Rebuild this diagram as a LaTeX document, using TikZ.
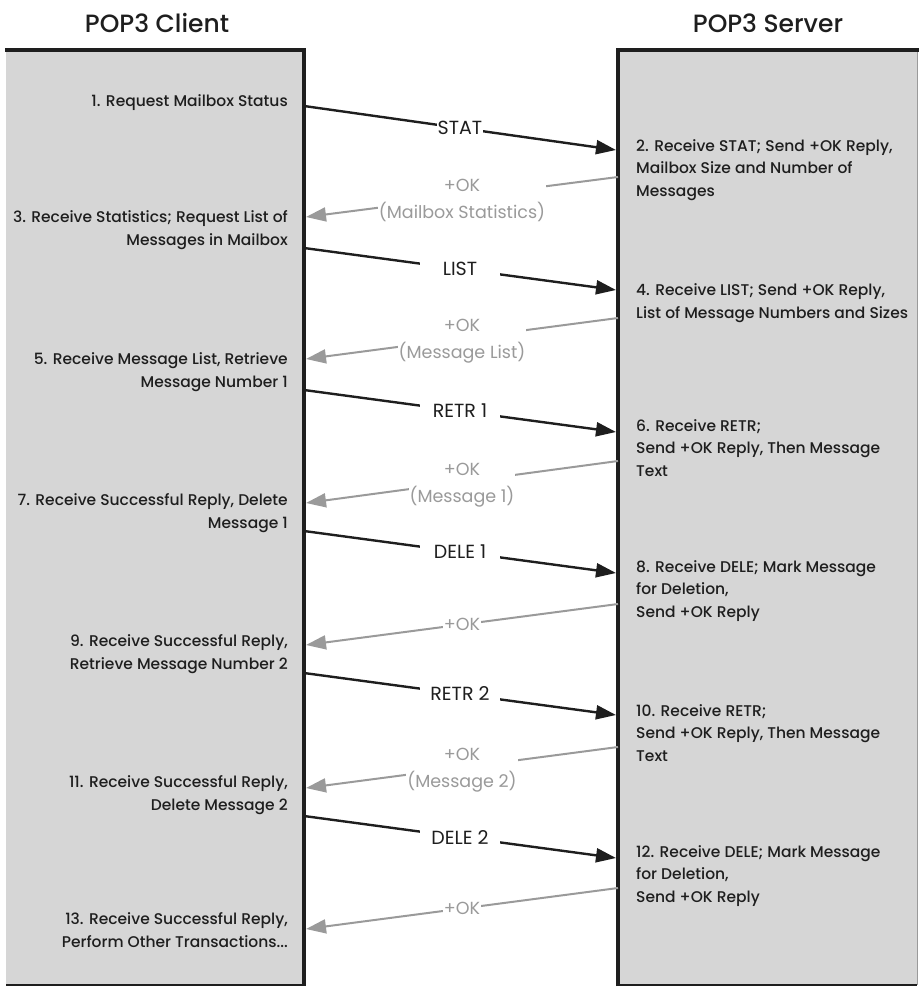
\documentclass[tikz,border=0pt]{standalone}
\usepackage{fontspec}
\setmainfont{Poppins}
\newfontfamily\medfont{Poppins Medium}
\usetikzlibrary{arrows.meta}

\definecolor{boxgray}{HTML}{D6D6D6}
\definecolor{replygray}{HTML}{9A9A9A}
\definecolor{ink}{HTML}{1E1E1E}

\begin{document}
\begin{tikzpicture}[x=1pt, y=-1pt,
    title/.style={text=ink, font=\medfont\fontsize{25}{30}\selectfont},
    ctext/.style={anchor=east, align=right, inner sep=0pt, text=ink, font=\medfont\fontsize{15.5}{22.5}\selectfont},
    stext/.style={anchor=west, align=left, inner sep=0pt, text=ink, font=\medfont\fontsize{15.5}{22.5}\selectfont},
    req/.style={draw=ink, line width=2.4pt, -{Triangle[length=20pt,width=14pt]}},
    rep/.style={draw=replygray, line width=2pt, -{Triangle[length=20pt,width=14pt]}},
    reqlab/.style={fill=white, text=ink, inner sep=1pt, minimum width=80pt, font=\fontsize{19}{22}\selectfont},
    replab/.style={fill=white, text=replygray, inner sep=1pt, align=center, font=\fontsize{17.5}{27}\selectfont}]

    \useasboundingbox (0,0) rectangle (919,987);

    % Titles
    \node[title] (client) at (157,23) {POP3 Client};
    \node[title] (server) at (768,23) {POP3 Server};

    % Client side
    \fill[boxgray] (6,50) rectangle (304,985);
    \draw[ink, line width=4.5pt] (5,50) -- (304,50) -- (304,986);
    \draw[ink, line width=1.5pt] (6,985) -- (304,985);

    % Server side
    \fill[boxgray] (618,50) rectangle (917,985);
    \draw[replygray, line width=0.8pt] (917,50) -- (917,985);
    \draw[ink, line width=4.5pt] (618,986) -- (618,50) -- (919,50);
    \draw[ink, line width=1.5pt] (618,985) -- (917,985);

    % Client steps
    \node[ctext] (c1) at (288,103) {1. Request Mailbox Status};
    \node[ctext] (c3) at (288,230) {3. Receive Statistics; Request List of\\Messages in Mailbox};
    \node[ctext] (c5) at (288,372) {5. Receive Message List, Retrieve\\Message Number 1};
    \node[ctext] (c7) at (288,513) {7. Receive Successful Reply, Delete\\Message 1};
    \node[ctext] (c9) at (288,654) {9. Receive Successful Reply,\\Retrieve Message Number 2};
    \node[ctext] (c11) at (288,795) {11. Receive Successful Reply,\\Delete Message 2};
    \node[ctext] (c13) at (288,930) {13. Receive Successful Reply,\\Perform Other Transactions...};

    % Server steps
    \node[stext] (s2) at (636,170) {2. Receive STAT; Send +OK Reply,\\Mailbox Size and Number of\\Messages};
    \node[stext] (s4) at (636,303) {4. Receive LIST; Send +OK Reply,\\List of Message Numbers and Sizes};
    \node[stext] (s6) at (636,448) {6. Receive RETR;\\Send +OK Reply, Then Message\\Text};
    \node[stext] (s8) at (636,591) {8. Receive DELE; Mark Message\\for Deletion,\\Send +OK Reply};
    \node[stext] (s10) at (636,733) {10. Receive RETR;\\Send +OK Reply, Then Message\\Text};
    \node[stext] (s12) at (636,876) {12. Receive DELE; Mark Message\\for Deletion,\\Send +OK Reply};

    % Ends of the commands on the box edges
    \coordinate (stat-a) at (304,106);  \coordinate (stat-b) at (616,150);
    \coordinate (list-a) at (304,248);  \coordinate (list-b) at (616,290);
    \coordinate (retr1-a) at (304,390); \coordinate (retr1-b) at (616,432);
    \coordinate (dele1-a) at (304,531); \coordinate (dele1-b) at (616,573);
    \coordinate (retr2-a) at (304,673); \coordinate (retr2-b) at (616,715);
    \coordinate (dele2-a) at (304,816); \coordinate (dele2-b) at (616,858);

    % Ends of the replies on the box edges
    \coordinate (ok1-a) at (618,177); \coordinate (ok1-b) at (306,217);
    \coordinate (ok2-a) at (618,318); \coordinate (ok2-b) at (306,359);
    \coordinate (ok3-a) at (618,461); \coordinate (ok3-b) at (306,503);
    \coordinate (ok4-a) at (618,604); \coordinate (ok4-b) at (306,645);
    \coordinate (ok5-a) at (618,747); \coordinate (ok5-b) at (306,788);
    \coordinate (ok6-a) at (618,888); \coordinate (ok6-b) at (306,929);

    % Commands
    \draw[req] (stat-a) -- node[reqlab, minimum width=0pt, inner sep=0.5pt] (lstat) {STAT} (stat-b);
    \draw[req] (list-a) -- node[reqlab] (llist) {LIST} (list-b);
    \draw[req] (retr1-a) -- node[reqlab] (lretr1) {RETR 1} (retr1-b);
    \draw[req] (dele1-a) -- node[reqlab] (ldele1) {DELE 1} (dele1-b);
    \draw[req] (retr2-a) -- node[reqlab] (lretr2) {RETR 2} (retr2-b);
    \draw[req] (dele2-a) -- node[reqlab] (ldele2) {DELE 2} (dele2-b);

    % Replies
    \draw[rep] (ok1-a) -- node[replab, yshift=-3pt] (lok1) {+OK\\(Mailbox Statistics)} (ok1-b);
    \draw[rep] (ok2-a) -- node[replab, yshift=-3pt] (lok2) {+OK\\(Message List)} (ok2-b);
    \draw[rep] (ok3-a) -- node[replab, yshift=-3pt] (lok3) {+OK\\(Message 1)} (ok3-b);
    \draw[rep] (ok4-a) -- node[replab] (lok4) {+OK} (ok4-b);
    \draw[rep] (ok5-a) -- node[replab, yshift=-3pt] (lok5) {+OK\\(Message 2)} (ok5-b);
    \draw[rep] (ok6-a) -- node[replab] (lok6) {+OK} (ok6-b);

\end{tikzpicture}
\end{document}
